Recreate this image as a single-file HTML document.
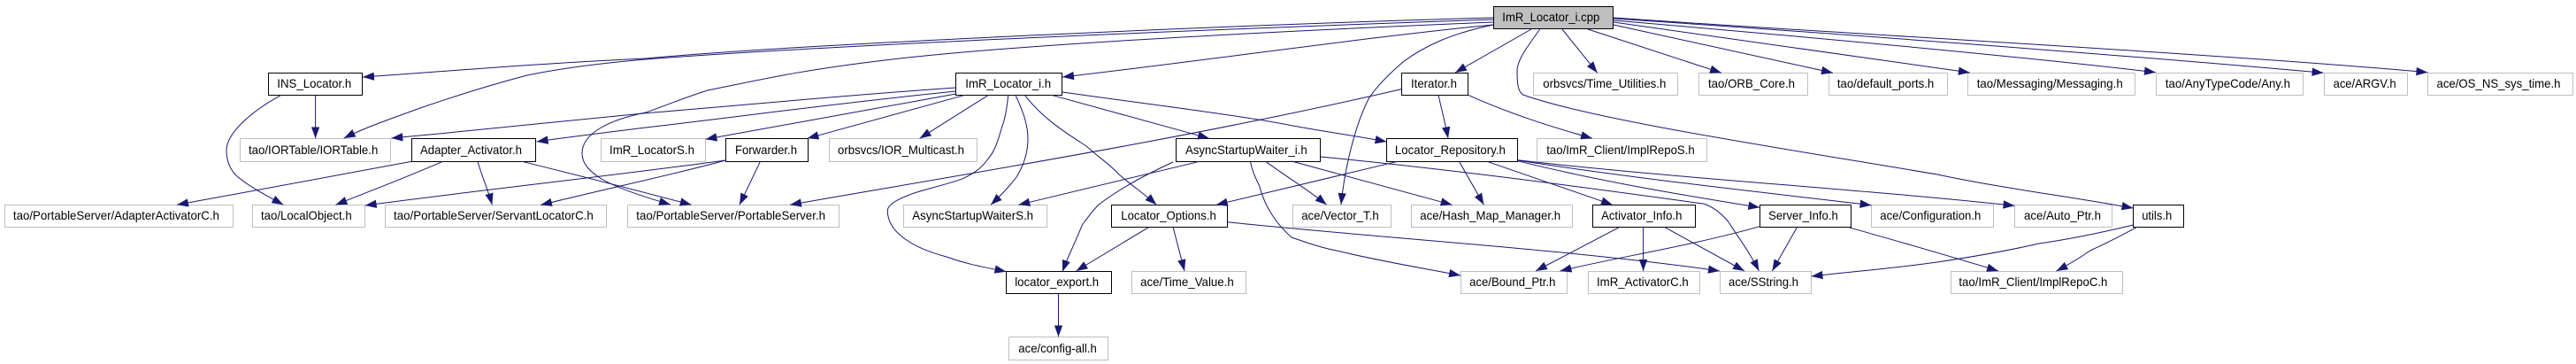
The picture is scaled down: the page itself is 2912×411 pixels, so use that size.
<!DOCTYPE html>
<html>
<head>
<meta charset="utf-8">
<style>
html,body{margin:0;padding:0;background:#fff;}
svg{display:block;}
text{font-family:"Liberation Sans",sans-serif;font-size:14px;fill:#000;}
.g rect{fill:#fff;stroke:#bfbfbf;stroke-width:1;}
.b rect{fill:#fff;stroke:#000;stroke-width:1;}
.e path{fill:none;stroke:#191970;stroke-width:1;marker-end:url(#a);}
</style>
</head>
<body>
<svg xmlns="http://www.w3.org/2000/svg" width="2912" height="411" viewBox="0 0 2912 411">
<defs>
<marker id="a" markerUnits="userSpaceOnUse" markerWidth="14" markerHeight="10" refX="13" refY="5" orient="auto"><path d="M0,.3 L13,5 L0,9.7z" fill="#191970" stroke="none" style="marker-end:none"/></marker>
</defs>
<rect width="2912" height="411" fill="#fff"/>

<g class="g">
<rect x="1733.5" y="82.5" width="163" height="25"/>
<rect x="1920.5" y="82.5" width="123" height="25"/>
<rect x="2067.5" y="82.5" width="134" height="25"/>
<rect x="2224.5" y="82.5" width="189" height="25"/>
<rect x="2437.5" y="82.5" width="166" height="25"/>
<rect x="2627.5" y="82.5" width="94" height="25"/>
<rect x="2744.5" y="82.5" width="164" height="25"/>
<rect x="271.5" y="156.5" width="170" height="26"/>
<rect x="679.5" y="156.5" width="118" height="26"/>
<rect x="937.5" y="156.5" width="167" height="26"/>
<rect x="1737.5" y="156.5" width="192" height="26"/>
<rect x="5.5" y="231.5" width="258" height="25"/>
<rect x="285.5" y="231.5" width="127" height="25"/>
<rect x="435.5" y="231.5" width="250" height="25"/>
<rect x="709.5" y="231.5" width="239" height="25"/>
<rect x="1021.5" y="231.5" width="162" height="25"/>
<rect x="1461.5" y="231.5" width="111" height="25"/>
<rect x="1595.5" y="231.5" width="182" height="25"/>
<rect x="2115.5" y="231.5" width="138" height="25"/>
<rect x="2277.5" y="231.5" width="110" height="25"/>
<rect x="1279.5" y="306.5" width="129" height="25"/>
<rect x="1651.5" y="306.5" width="120" height="25"/>
<rect x="1795.5" y="306.5" width="126" height="25"/>
<rect x="1944.5" y="306.5" width="103" height="25"/>
<rect x="2205.5" y="306.5" width="194" height="25"/>
<rect x="1140.5" y="380.5" width="112" height="26"/>
</g>
<g class="b">
<rect x="1688.5" y="7.5" width="135" height="25" style="fill:#bfbfbf"/>
<rect x="303.5" y="82.5" width="106" height="25"/>
<rect x="1080.5" y="82.5" width="120" height="25"/>
<rect x="1584.5" y="82.5" width="75" height="25"/>
<rect x="465.5" y="156.5" width="140" height="26"/>
<rect x="820.5" y="156.5" width="93" height="26"/>
<rect x="1329.5" y="156.5" width="163" height="26"/>
<rect x="1567.5" y="156.5" width="148" height="26"/>
<rect x="1256.5" y="231.5" width="131" height="25"/>
<rect x="1800.5" y="231.5" width="116" height="25"/>
<rect x="1989.5" y="231.5" width="103" height="25"/>
<rect x="2411.5" y="231.5" width="57" height="25"/>
<rect x="1137.5" y="306.5" width="119" height="25"/>
</g>

<g class="e">
<!-- from ImR_Locator_i.cpp -->
<path d="M1688,20 C1400,28 900,50 730,66 C600,72 500,81 410,87"/>
<path d="M1688,22 C1400,32 950,50 730,67 C660,73 620,80 596,85 C550,97 510,110 475,122 C445,133 415,143 388.7,156"/>
<path d="M1688,25 C1450,35 1150,50 1000,68 C900,80 860,90 800,102 C780,108 750,120 730,127 C690,135 658,150 658,173 C658,186 668,194 677,200 C690,209 720,220 758,231"/>
<path d="M1688,28 C1560,40 1350,70 1201,87"/>
<path d="M1688,28 C1640,38 1610,52 1586,70 C1565,88 1555,100 1548,110 C1532,140 1520,190 1516,231"/>
<path d="M1731,33 L1645,82"/>
<path d="M1740.7,33 C1725,55 1715,68 1715,80 C1715,95 1716,103 1721.6,107 C1800,135 2000,165 2190,197 C2260,212 2340,222 2411.5,235"/>
<path d="M1766,33 L1805.7,82.3"/>
<path d="M1795,33 L1946,82.3"/>
<path d="M1824,28 L2072,82.3"/>
<path d="M1824,25 L2226.8,82"/>
<path d="M1824,23 C2000,38 2250,60 2437,81.7"/>
<path d="M1824,21 C2050,36 2400,62 2626.5,82.3"/>
<path d="M1824,20 C2050,36 2500,60 2744.4,81.7"/>
<!-- ImR_Locator_i.h -->
<path d="M1080.6,99 C950,108 850,118 730,127.7 C640,137 540,147 442.3,156"/>
<path d="M1080.6,103 C950,116 850,130 730,144 C690,149 640,155 606.6,160"/>
<path d="M1080.6,106 C1000,120 900,138 797.5,157.3"/>
<path d="M1090.8,107.3 L912.5,156.3"/>
<path d="M1117.4,107.3 L1039.6,156.3"/>
<path d="M1139.7,107.3 C1138,125 1136,135 1132.7,143 C1128,160 1124,172 1116.4,180 C1108,192 1098,197 1088.5,201.7 C1065,210 1040,215 1028,220 C1012,226 1003.3,232 1003.3,238 C1003.3,252 1012,262 1023.3,270 C1037,280 1055,286 1070,290 C1095,299 1115,302 1137.4,306.7"/>
<path d="M1148,107.3 C1156,125 1162,140 1162,156.7 C1162,172 1157,187 1149,200 C1140,212 1130,222 1120,231.3"/>
<path d="M1158.3,107.3 C1180,135 1205,150 1228,165 C1245,180 1255,186 1265,197 C1280,210 1295,220 1307.3,231.3"/>
<path d="M1188.6,107.3 L1367,156.3"/>
<path d="M1201,104 C1300,118 1400,130 1460,141.7 C1500,149 1530,153 1567.5,160"/>
<!-- INS_Locator.h -->
<path d="M356.6,107.3 L356.6,156.3"/>
<path d="M318,107.3 C285,125 256,150 256,170 C256,182 260,190 265.4,196.7 C280,210 300,220 320.3,231.3"/>
<!-- Adapter_Activator.h -->
<path d="M465.6,182.3 L200,231.3"/>
<path d="M500.5,182.3 C460,200 420,215 379.4,231.3"/>
<path d="M540,182.3 C545,200 552,215 556.3,231.3"/>
<path d="M590,182.3 C650,197 720,215 781.7,231.3"/>
<!-- Forwarder.h -->
<path d="M820.3,181 C680,200 540,215 412.7,232"/>
<path d="M820.3,181 C770,195 690,212 611,231.5"/>
<path d="M859.4,182.3 L836,231.3"/>
<!-- Iterator.h -->
<path d="M1584.3,100.6 C1350,155 1100,195 893,231.3"/>
<path d="M1626,107.3 C1630,125 1634,140 1637,156.3"/>
<path d="M1659.7,107.3 C1710,130 1760,145 1800,156.3"/>
<!-- AsyncStartupWaiter_i.h -->
<path d="M1326,183 C1300,195 1270,210 1242,231 C1235,238 1230,245 1223.5,253.7 C1215,275 1207,290 1201,306.7"/>
<path d="M1356,182.3 L1151.3,231.3"/>
<path d="M1430.7,182.3 C1455,200 1480,215 1499.6,231.3"/>
<path d="M1413.4,182.3 C1416,195 1420,202 1423.7,210 C1430,235 1445,255 1460,268 C1480,275 1495,280 1511,283 C1560,295 1610,303 1651,311"/>
<path d="M1460,182 L1641.6,231.3"/>
<path d="M1492.6,177 C1650,192 1800,213 1925.6,230 C1935,233 1945,240 1953.5,250 C1965,268 1978,285 1988.4,306"/>
<!-- Locator_Repository.h -->
<path d="M1580,182.3 L1374.8,231.3"/>
<path d="M1649.5,182.3 L1677.4,231.3"/>
<path d="M1681,182.3 L1823,231.3"/>
<path d="M1715.6,181.7 C1810,205 1900,220 1989.3,234.3"/>
<path d="M1715.6,181 C1850,202 2000,218 2115.5,231.7"/>
<path d="M1715.6,180.7 C1900,202 2100,213 2277.5,232.3"/>
<!-- Locator_Options.h -->
<path d="M1299,256.3 L1216.5,306"/>
<path d="M1326,256.3 L1339,306"/>
<path d="M1387.4,250.7 C1550,268 1780,282 1944,306"/>
<!-- locator_export.h -->
<path d="M1196.5,331.3 L1196.5,380.3"/>
<!-- Activator_Info.h -->
<path d="M1831,256.3 L1736,306"/>
<path d="M1857.6,256.3 L1857.6,306"/>
<path d="M1881.3,256.3 L1972,306"/>
<!-- Server_Info.h -->
<path d="M1989.3,255.7 C1910,278 1830,290 1763.5,306"/>
<path d="M2031.7,256.3 L2003.3,306"/>
<path d="M2088.5,256.3 C2130,268 2200,288 2259,306"/>
<!-- utils.h -->
<path d="M2411.5,254 C2370,264 2340,270 2305,275 C2270,283 2230,290 2190,296 C2140,303 2090,307 2047.5,312"/>
<path d="M2415.6,256.3 C2395,268 2380,275 2362.7,283 C2350,292 2340,298 2324.5,306"/>
</g>

<g>
<text x="1698.3" y="24" textLength="110" lengthAdjust="spacingAndGlyphs">ImR_Locator_i.cpp</text>
<text x="313.3" y="99" textLength="84" lengthAdjust="spacingAndGlyphs">INS_Locator.h</text>
<text x="1091.3" y="99" textLength="96.8" lengthAdjust="spacingAndGlyphs">ImR_Locator_i.h</text>
<text x="1595" y="99" textLength="52" lengthAdjust="spacingAndGlyphs">Iterator.h</text>
<text x="1744.3" y="99" textLength="139" lengthAdjust="spacingAndGlyphs">orbsvcs/Time_Utilities.h</text>
<text x="1931" y="99" textLength="98" lengthAdjust="spacingAndGlyphs">tao/ORB_Core.h</text>
<text x="2076.9" y="99" textLength="109.4" lengthAdjust="spacingAndGlyphs">tao/default_ports.h</text>
<text x="2234.7" y="99" textLength="165" lengthAdjust="spacingAndGlyphs">tao/Messaging/Messaging.h</text>
<text x="2447.9" y="99" textLength="141" lengthAdjust="spacingAndGlyphs">tao/AnyTypeCode/Any.h</text>
<text x="2637.6" y="99" textLength="71" lengthAdjust="spacingAndGlyphs">ace/ARGV.h</text>
<text x="2754.5" y="99" textLength="140" lengthAdjust="spacingAndGlyphs">ace/OS_NS_sys_time.h</text>

<text x="281" y="174" textLength="146.3" lengthAdjust="spacingAndGlyphs">tao/IORTable/IORTable.h</text>
<text x="475" y="174" textLength="115" lengthAdjust="spacingAndGlyphs">Adapter_Activator.h</text>
<text x="689" y="174" textLength="96" lengthAdjust="spacingAndGlyphs">ImR_LocatorS.h</text>
<text x="831" y="174" textLength="70" lengthAdjust="spacingAndGlyphs">Forwarder.h</text>
<text x="947" y="174" textLength="143" lengthAdjust="spacingAndGlyphs">orbsvcs/IOR_Multicast.h</text>
<text x="1340" y="174" textLength="137.7" lengthAdjust="spacingAndGlyphs">AsyncStartupWaiter_i.h</text>
<text x="1576.9" y="174" textLength="125" lengthAdjust="spacingAndGlyphs">Locator_Repository.h</text>
<text x="1748.2" y="174" textLength="167.6" lengthAdjust="spacingAndGlyphs">tao/ImR_Client/ImplRepoS.h</text>

<text x="14.9" y="248" textLength="233" lengthAdjust="spacingAndGlyphs">tao/PortableServer/AdapterActivatorC.h</text>
<text x="295" y="248" textLength="102.7" lengthAdjust="spacingAndGlyphs">tao/LocalObject.h</text>
<text x="445" y="248" textLength="225.8" lengthAdjust="spacingAndGlyphs">tao/PortableServer/ServantLocatorC.h</text>
<text x="719.3" y="248" textLength="213.7" lengthAdjust="spacingAndGlyphs">tao/PortableServer/PortableServer.h</text>
<text x="1031.2" y="248" textLength="136.9" lengthAdjust="spacingAndGlyphs">AsyncStartupWaiterS.h</text>
<text x="1267.3" y="248" textLength="107.5" lengthAdjust="spacingAndGlyphs">Locator_Options.h</text>
<text x="1471.2" y="248" textLength="87.5" lengthAdjust="spacingAndGlyphs">ace/Vector_T.h</text>
<text x="1605.3" y="248" textLength="158.8" lengthAdjust="spacingAndGlyphs">ace/Hash_Map_Manager.h</text>
<text x="1810.1" y="248" textLength="91.3" lengthAdjust="spacingAndGlyphs">Activator_Info.h</text>
<text x="1999.1" y="248" textLength="78.7" lengthAdjust="spacingAndGlyphs">Server_Info.h</text>
<text x="2125.3" y="248" textLength="114" lengthAdjust="spacingAndGlyphs">ace/Configuration.h</text>
<text x="2288" y="248" textLength="87" lengthAdjust="spacingAndGlyphs">ace/Auto_Ptr.h</text>
<text x="2421.2" y="248" textLength="34" lengthAdjust="spacingAndGlyphs">utils.h</text>

<text x="1147.2" y="323" textLength="95" lengthAdjust="spacingAndGlyphs">locator_export.h</text>
<text x="1289.1" y="323" textLength="105.7" lengthAdjust="spacingAndGlyphs">ace/Time_Value.h</text>
<text x="1661.1" y="323" textLength="97.3" lengthAdjust="spacingAndGlyphs">ace/Bound_Ptr.h</text>
<text x="1805" y="323" textLength="103.8" lengthAdjust="spacingAndGlyphs">ImR_ActivatorC.h</text>
<text x="1954" y="323" textLength="79" lengthAdjust="spacingAndGlyphs">ace/SString.h</text>
<text x="2214.4" y="323" textLength="168" lengthAdjust="spacingAndGlyphs">tao/ImR_Client/ImplRepoC.h</text>

<text x="1151.3" y="398" textLength="88.5" lengthAdjust="spacingAndGlyphs">ace/config-all.h</text>
</g>
</svg>
</body>
</html>
